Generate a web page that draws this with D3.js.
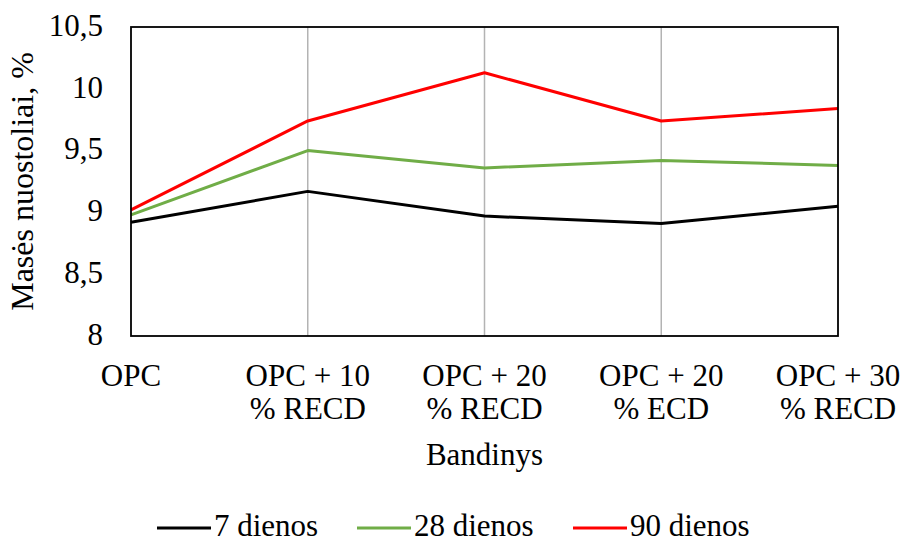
<!DOCTYPE html>
<html>
<head>
<meta charset="utf-8">
<script src="https://cdn.jsdelivr.net/npm/d3@7/dist/d3.min.js"></script>
<style>
  html, body { margin: 0; padding: 0; background: #fff; }
</style>
</head>
<body>
<svg id="chart" width="904" height="543"></svg>
<script>
// Sample groups (two-line labels)
const categories = [
  ["OPC"],
  ["OPC + 10", "% RECD"],
  ["OPC + 20", "% RECD"],
  ["OPC + 20", "% ECD"],
  ["OPC + 30", "% RECD"]
];
const seriesNames = ["7 dienos", "28 dienos", "90 dienos"];
const seriesColors = ["#000000", "#70ad47", "#ff0000"];
const values7 = [8.92, 9.17, 8.97, 8.91, 9.05];
const values28 = [8.98, 9.50, 9.36, 9.42, 9.38];
const values90 = [9.02, 9.74, 10.13, 9.74, 9.84];
const yTicks = [8, 8.5, 9, 9.5, 10, 10.5];

const series = [values7, values28, values90];
const FONT = "Liberation Serif, Tinos, Times New Roman, DejaVu Serif, serif";
const FS = 31;

const svg = d3.select("#chart");
const margin = { left: 131, right: 66, top: 27, bottom: 207 };
const W = 904, H = 543;
const x0 = margin.left, x1 = W - margin.right, y0 = H - margin.bottom, y1 = margin.top;

const x = d3.scalePoint().domain(d3.range(categories.length)).range([x0, x1]);
const y = d3.scaleLinear().domain([8, 10.5]).range([y0, y1]);

// vertical gridlines at interior categories
svg.append("g")
  .selectAll("line")
  .data(d3.range(1, categories.length - 1))
  .join("line")
  .attr("x1", d => x(d)).attr("x2", d => x(d))
  .attr("y1", y0).attr("y2", y1)
  .attr("stroke", "#b3b3b3").attr("stroke-width", 1.5);

// series lines
const line = d3.line().x((d, i) => x(i)).y(d => y(d));
svg.append("g")
  .selectAll("path")
  .data(series)
  .join("path")
  .attr("d", d => line(d))
  .attr("fill", "none")
  .attr("stroke", (d, i) => seriesColors[i])
  .attr("stroke-width", 3)
  .attr("stroke-linejoin", "round");

// plot frame
svg.append("rect")
  .attr("x", x0).attr("y", y1)
  .attr("width", x1 - x0).attr("height", y0 - y1)
  .attr("fill", "none").attr("stroke", "#000").attr("stroke-width", 1.8);

// y axis tick labels
const yAxis = d3.axisLeft(y).tickValues(yTicks).tickSize(0).tickPadding(28)
  .tickFormat(d => String(d).replace(".", ","));
const gy = svg.append("g").attr("transform", `translate(${x0},0)`).call(yAxis)
  .attr("font-family", FONT).attr("font-size", FS);
gy.select(".domain").remove();
gy.selectAll("text").attr("fill", "#000").attr("dy", "0.27em");

// x axis labels (multi-line)
const gx = svg.append("g").attr("font-family", FONT).attr("font-size", FS);
categories.forEach((lines, i) => {
  const t = gx.append("text")
    .attr("x", x(i)).attr("y", 386)
    .attr("text-anchor", "middle");
  lines.forEach((s, j) => {
    t.append("tspan").attr("x", x(i)).attr("dy", j === 0 ? 0 : 33).text(s);
  });
});

// axis titles
const titles = svg.append("g").attr("font-family", FONT).attr("font-size", FS);
titles.append("text")
  .attr("x", (x0 + x1) / 2).attr("y", 465)
  .attr("text-anchor", "middle")
  .text("Bandinys");
titles.append("text")
  .attr("transform", `translate(33,${(y0 + y1) / 2}) rotate(-90)`)
  .attr("text-anchor", "middle")
  .attr("font-size", 32)
  .text("Masės nuostoliai, %");

// legend
const legendX = [157, 357, 573];
const lg = svg.append("g").attr("font-family", FONT).attr("font-size", 31);
seriesNames.forEach((name, i) => {
  lg.append("line")
    .attr("x1", legendX[i]).attr("x2", legendX[i] + 54)
    .attr("y1", 528).attr("y2", 528)
    .attr("stroke", seriesColors[i]).attr("stroke-width", 3);
  lg.append("text")
    .attr("x", legendX[i] + 57).attr("y", 535.5)
    .text(name);
});
</script>
</body>
</html>
